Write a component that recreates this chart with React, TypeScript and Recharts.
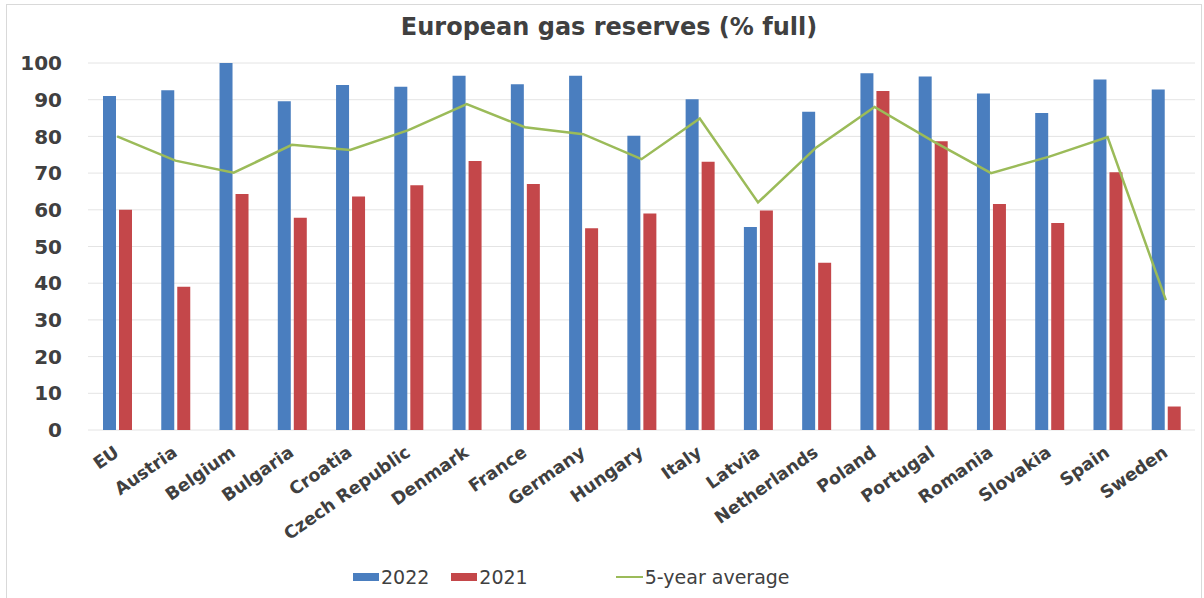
import {
  ComposedChart, Bar, Line, XAxis, YAxis, CartesianGrid, Legend
} from "recharts";

const countries = [
  "EU", "Austria", "Belgium", "Bulgaria", "Croatia", "Czech Republic",
  "Denmark", "France", "Germany", "Hungary", "Italy", "Latvia",
  "Netherlands", "Poland", "Portugal", "Romania", "Slovakia", "Spain", "Sweden",
];
const full2022 = [91, 92.6, 100, 89.6, 94, 93.5, 96.5, 94.2, 96.5, 80.2, 90.1, 55.3, 86.7, 97.2, 96.3, 91.7, 86.4, 95.5, 92.8];
const full2021 = [60, 39, 64.3, 57.8, 63.6, 66.7, 73.3, 67, 55, 59, 73.1, 59.8, 45.6, 92.4, 78.7, 61.6, 56.4, 70.2, 6.4];
const fiveYearAvg = [80, 73.4, 70.1, 77.7, 76.3, 81.7, 88.8, 82.5, 80.6, 73.8, 84.9, 62, 77, 88, 78.7, 70, 74.5, 79.8, 35.4];
const yTicks = [0, 10, 20, 30, 40, 50, 60, 70, 80, 90, 100];
const legendOrder = ["2022", "2021", "5-year average"];

const BLUE = "#4a7ebf";
const RED = "#c4474a";
const GREEN = "#9bbb59";
const TEXT = "#404040";
const FONT = "'DejaVu Sans', sans-serif";

const data = countries.map((country, i) => ({
  country,
  y2022: full2022[i],
  y2021: full2021[i],
  avg: fiveYearAvg[i],
}));

// rotated category label, anchored at its end
function CountryTick({ x, y, payload }: any) {
  const tx = x + 3;
  const ty = y + 17;
  return (
    <text
      x={tx}
      y={ty}
      transform={`rotate(-35, ${tx}, ${ty})`}
      textAnchor="end"
      fill={TEXT}
      fontSize={17.5}
      fontWeight={700}
      fontFamily={FONT}
    >
      {payload.value}
    </text>
  );
}

function LegendBox({ payload }: any) {
  const items = [...(payload || [])].sort(
    (a: any, b: any) => legendOrder.indexOf(a.value) - legendOrder.indexOf(b.value)
  );
  return (
    <div style={{ display: "flex", alignItems: "center", fontFamily: FONT, fontSize: 19, color: TEXT, height: 24 }}>
      {items.map((p: any, i: number) => (
        <div key={p.value} style={{ display: "flex", alignItems: "center", marginRight: i === 1 ? 88 : 22 }}>
          {p.type === "line" ? (
            <span style={{ display: "inline-block", width: 27, height: 2, background: p.color, marginRight: 2 }} />
          ) : (
            <span style={{ display: "inline-block", width: 26, height: 8, background: p.color, marginRight: 2 }} />
          )}
          <span>{p.value}</span>
        </div>
      ))}
    </div>
  );
}

export default function App() {
  return (
    <div style={{ position: "absolute", left: 0, top: 0, width: 1204, height: 598, background: "#fff" }}>
      <div
        style={{
          position: "absolute", left: 6, top: 4, width: 1196, height: 600,
          border: "1px solid #d9d9d9", boxSizing: "border-box",
        }}
      />
      <div
        style={{
          position: "absolute", left: 0, top: 13, width: 1218, textAlign: "center",
          fontFamily: FONT, fontWeight: 700, fontSize: 24, color: TEXT,
        }}
      >
        European gas reserves (% full)
      </div>
      <ComposedChart
        width={1204}
        height={598}
        data={data}
        margin={{ top: 63, right: 9, left: 0, bottom: 0 }}
        barGap={3}
        style={{ position: "absolute", left: 0, top: 0 }}
      >
        <CartesianGrid vertical={false} stroke="#e4e4e4" />
        <XAxis
          dataKey="country"
          interval={0}
          height={144}
          axisLine={false}
          tickLine={false}
          tick={<CountryTick />}
        />
        <YAxis
          domain={[0, 100]}
          ticks={yTicks}
          width={88}
          axisLine={false}
          tickLine={false}
          tickMargin={20}
          tick={{ fill: TEXT, fontSize: 20, fontWeight: 700, fontFamily: FONT }}
        />
        <Legend
          verticalAlign="bottom"
          content={<LegendBox />}
          wrapperStyle={{ left: 353, top: 565, bottom: "auto", width: "auto" }}
        />
        <Bar dataKey="y2022" name="2022" fill={BLUE} barSize={13} isAnimationActive={false} />
        <Bar dataKey="y2021" name="2021" fill={RED} barSize={13} isAnimationActive={false} />
        <Line
          dataKey="avg"
          name="5-year average"
          type="linear"
          stroke={GREEN}
          strokeWidth={2.5}
          dot={false}
          legendType="line"
          isAnimationActive={false}
        />
      </ComposedChart>
    </div>
  );
}
